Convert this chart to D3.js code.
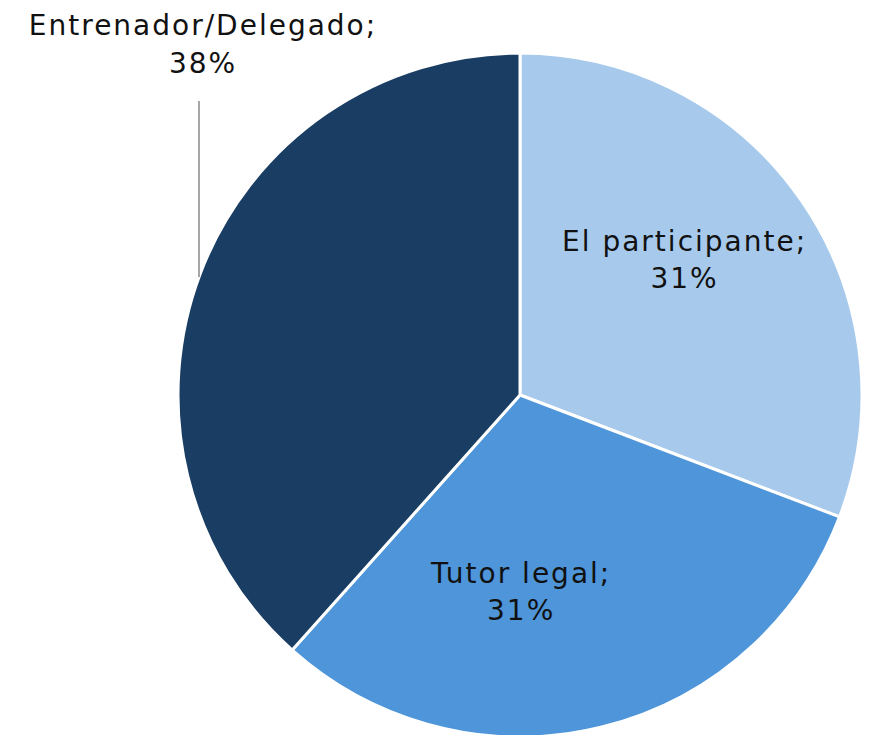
<!DOCTYPE html>
<html>
<head>
<meta charset="utf-8">
<script src="https://cdn.jsdelivr.net/npm/d3@7"></script>
<style>
  body { margin: 0; background: #fff; }
  text { font-family: 'DejaVu Sans', sans-serif; fill: #111; letter-spacing: 2px; }
</style>
</head>
<body>
<script>
let w = 869;
let h = 735;

let categories = ['El participante', 'Tutor legal', 'Entrenador/Delegado'];
let values = [30.8, 30.8, 38.4];
let colors = ['#A7CAEC', '#4E95D9', '#193D63'];

let dataset = categories.map((c, i) => { return { name: c, value: values[i] }; });

let cx = 520;
let cy = 395;
let radius = 342;

let svg = d3.select('body')
  .append('svg')
  .attr('width', w)
  .attr('height', h);

let pie = d3.pie()
  .sort(null)
  .value((d) => { return d.value; });

let arc = d3.arc()
  .innerRadius(0)
  .outerRadius(radius);

let labelArc = d3.arc()
  .innerRadius(212)
  .outerRadius(212);

let arcs = pie(dataset);

let g = svg.append('g')
  .attr('transform', 'translate(' + cx + ', ' + cy + ')');

g.selectAll('path')
  .data(arcs)
  .enter()
  .append('path')
  .attr('d', arc)
  .attr('fill', (d, i) => { return colors[i]; })
  .attr('stroke', '#fff')
  .attr('stroke-width', 3)
  .attr('stroke-linejoin', 'round');

// inside labels (first two slices), nudged like Excel's placement
let nudges = [[-10, -16], [-49, -10]];

arcs.slice(0, 2).forEach((d, i) => {
  let c = labelArc.centroid(d);
  let t = g.append('text')
    .attr('text-anchor', 'middle')
    .attr('font-size', 28)
    .attr('transform', 'translate(' + (c[0] + nudges[i][0]) + ', ' + (c[1] + nudges[i][1]) + ')');
  t.append('tspan').attr('x', 0).attr('y', -8).text(d.data.name + ';');
  t.append('tspan').attr('x', 0).attr('y', 29).text(Math.round(d.data.value) + '%');
});

// outside label with leader line for the last slice
let last = arcs[2];
let lineX = -321;
let edgeY = -Math.sqrt(radius * radius - lineX * lineX);

g.append('line')
  .attr('x1', lineX)
  .attr('x2', lineX)
  .attr('y1', -294)
  .attr('y2', edgeY)
  .attr('stroke', '#A6A6A6')
  .attr('stroke-width', 2);

let t = g.append('text')
  .attr('text-anchor', 'middle')
  .attr('font-size', 28)
  .attr('transform', 'translate(' + (lineX + 4) + ', 0)');
t.append('tspan').attr('x', 0).attr('y', -360).text(last.data.name + ';');
t.append('tspan').attr('x', 0).attr('y', -322).text(Math.round(last.data.value) + '%');
</script>
</body>
</html>
